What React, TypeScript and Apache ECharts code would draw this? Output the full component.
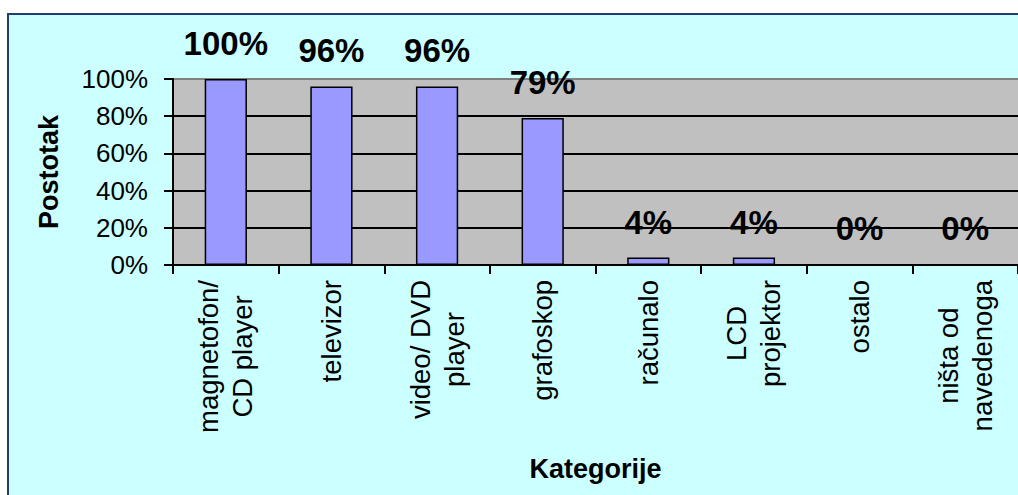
import React, { useEffect, useRef } from 'react';
import * as echarts from 'echarts';

const categories = [
  'magnetofon/\nCD player',
  'televizor',
  'video/ DVD\nplayer',
  'grafoskop',
  'računalo',
  'LCD\nprojektor',
  'ostalo',
  'ništa od\nnavedenoga',
];
const values = [100, 96, 96, 79, 4, 4, 0, 0];
const yMin = 0;
const yMax = 100;
const yInterval = 20;
const yAxisTitle = 'Postotak';
const xAxisTitle = 'Kategorije';

const FONT = "'Liberation Sans', Arial, sans-serif";

export default function App() {
  const ref = useRef<HTMLDivElement>(null);
  useEffect(() => {
    document.body.style.margin = '0';
    const chart = echarts.init(ref.current!, null, { renderer: 'svg' });
    chart.setOption({
      animation: false,
      backgroundColor: '#ffffff',
      textStyle: { fontFamily: FONT },
      graphic: [
        {
          type: 'rect',
          z: -10,
          shape: { x: 8, y: 14, width: 1100, height: 600 },
          style: { fill: '#CCFFFF', stroke: '#1F3F73', lineWidth: 2 },
        },
      ],
      grid: {
        left: 173,
        top: 79,
        width: 846,
        height: 186,
        show: true,
        backgroundColor: '#C0C0C0',
        borderWidth: 0,
      },
      xAxis: {
        type: 'category',
        data: categories,
        name: xAxisTitle,
        nameLocation: 'middle',
        nameGap: 190,
        nameTextStyle: { fontSize: 27, fontWeight: 'bold', color: '#000', fontFamily: FONT },
        axisLine: { lineStyle: { color: '#000', width: 2 } },
        axisTick: { show: true, length: 9, lineStyle: { color: '#000', width: 2 }, alignWithLabel: false, interval: 0 },
        axisLabel: {
          interval: 0,
          rotate: 90,
          margin: 15,
          color: '#000',
          fontSize: 27.5,
          fontFamily: FONT,
          formatter: (v: string) => v.split('\n').map((l) => `{c|${l}}`).join('\n'),
          rich: {
            c: { align: 'center', fontSize: 27.5, lineHeight: 34, fontFamily: FONT, color: '#000' },
          },
        },
        splitLine: { show: false },
      },
      yAxis: {
        type: 'value',
        min: yMin,
        max: yMax,
        interval: yInterval,
        name: yAxisTitle,
        nameLocation: 'middle',
        nameGap: 111,
        nameTextStyle: { fontSize: 27, fontWeight: 'bold', color: '#000', fontFamily: FONT },
        axisLine: { show: true, lineStyle: { color: '#000', width: 2 } },
        axisTick: { show: true, length: 9, lineStyle: { color: '#000', width: 2 } },
        axisLabel: { formatter: '{value}%', fontSize: 26, color: '#000', margin: 25, fontFamily: FONT },
        splitLine: {
          show: true,
          lineStyle: { color: ['#000', '#000', '#000', '#000', '#000', '#808080'], width: 2 },
        },
      },
      series: [
        {
          type: 'bar',
          data: values,
          barWidth: '40%',
          itemStyle: { color: '#9999FF', borderColor: '#000', borderWidth: 1.5 },
          label: {
            show: true,
            position: 'top',
            distance: 19,
            formatter: '{c}%',
            fontSize: 33,
            fontWeight: 'bold',
            color: '#000',
            fontFamily: FONT,
          },
        },
      ],
    });
    return () => chart.dispose();
  }, []);
  return <div ref={ref} style={{ width: 1018, height: 495 }} />;
}
